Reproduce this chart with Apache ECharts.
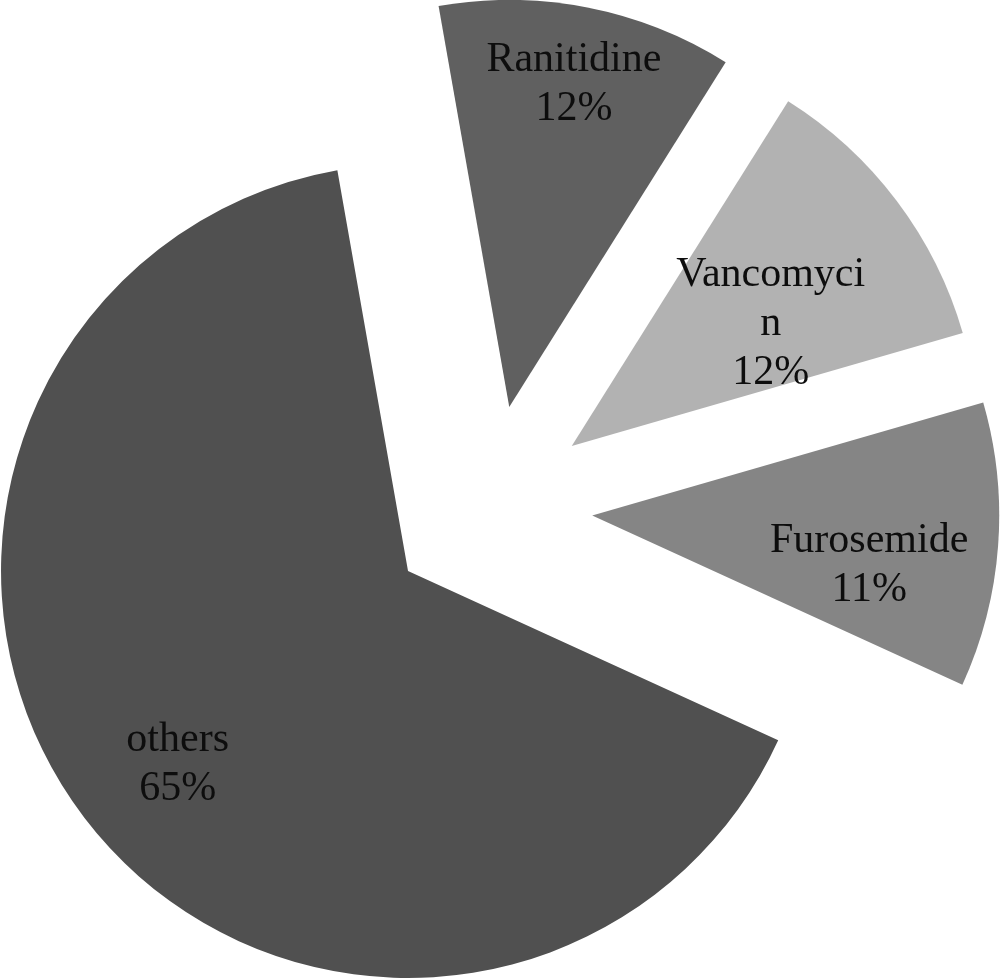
<!DOCTYPE html>
<html>
<head>
<meta charset="utf-8">
<script src="https://cdn.jsdelivr.net/npm/echarts@6/dist/echarts.min.js"></script>
<style>
html,body{margin:0;padding:0;background:#fff;}
#chart{width:1000px;height:980px;}
</style>
</head>
<body>
<div id="chart"></div>
<script>
const categories = ['Ranitidine', 'Vancomycin', 'Furosemide', 'others'];
const values = [11.7, 11.6, 11.3, 65.4];
const colors = ['#606060', '#b2b2b2', '#858585', '#505050'];
// label nudges (px) relative to the library's inside anchor
const labelShift = [[25, -120], [34, 2], [71, 35], [-67, 67]];

const chart = echarts.init(document.getElementById('chart'), null, {renderer: 'canvas'});

const data = categories.map((name, i) => {
  const item = {
    name: name,
    value: values[i],
    selected: true,
    itemStyle: {color: colors[i], borderWidth: 0},
    select: {itemStyle: {color: colors[i], borderWidth: 0}}
  };
  if (name === 'Vancomycin') {
    item.label = {width: 200, overflow: 'breakAll'};
  }
  return item;
});

chart.setOption({
  animation: false,
  backgroundColor: '#ffffff',
  series: [{
    type: 'pie',
    center: [489.5, 508],
    radius: 407,
    startAngle: 100,
    clockwise: true,
    selectedMode: 'multiple',
    selectedOffset: 103,
    percentPrecision: 0,
    avoidLabelOverlap: false,
    label: {
      show: true,
      position: 'inside',
      formatter: '{b}\n{d}%',
      fontFamily: 'Liberation Serif',
      fontSize: 42,
      lineHeight: 49,
      color: '#0d0d0d',
      align: 'center'
    },
    labelLine: {show: false},
    emphasis: {disabled: true, scale: false},
    labelLayout: function (params) {
      const s = labelShift[params.dataIndex];
      return {dx: s[0], dy: s[1]};
    },
    data: data
  }]
});
</script>
</body>
</html>
